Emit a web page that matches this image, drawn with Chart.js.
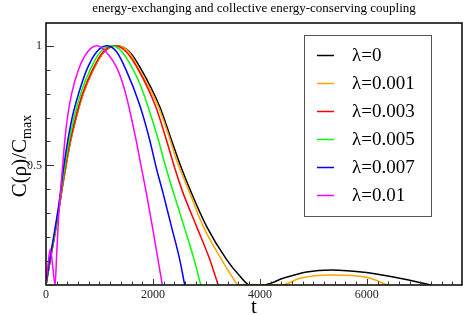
<!DOCTYPE html>
<html>
<head>
<meta charset="utf-8">
<script src="https://cdn.jsdelivr.net/npm/chart.js@4.4.1/dist/chart.umd.min.js"></script>
<style>
  html, body { margin: 0; padding: 0; background: #fff; }
  #wrap { width: 463px; height: 315px; }
</style>
</head>
<body>
<div id="wrap"><canvas id="c" width="463" height="315"></canvas></div>
<script>
// ===== DATA =====
const seriesLabels = ['λ=0', 'λ=0.001', 'λ=0.003', 'λ=0.005', 'λ=0.007', 'λ=0.01'];
const seriesColors = ['#000000', '#ffa500', '#ff0000', '#00ff00', '#0000ff', '#ff00ff'];

const tBlack = [0, 76, 157, 232, 300, 375, 458, 565, 697, 885, 1090, 1320, 1560, 1751, 2126, 2344, 2532, 2719, 3000, 3375, 3625, 3813, 4060, 4436, 4872, 5330, 5994, 6617, 6928, 7210];
const cBlack = [0, 0.1, 0.2, 0.3, 0.4, 0.5, 0.6, 0.7, 0.8, 0.9, 0.975, 1.0, 0.975, 0.913, 0.746, 0.607, 0.489, 0.385, 0.246, 0.107, 0.0375, 0, 0, 0.028, 0.054, 0.063, 0.052, 0.028, 0.014, 0];

const tOrange = [0, 76, 157, 232, 300, 375, 458, 565, 697, 885, 1085, 1310, 1545, 1740, 2100, 2320, 2438, 2688, 2938, 3281, 3480, 3607, 4405, 4750, 5330, 5994, 6390];
const cOrange = [0, 0.1, 0.2, 0.3, 0.4, 0.5, 0.6, 0.7, 0.8, 0.9, 0.975, 1.0, 0.975, 0.9, 0.746, 0.607, 0.524, 0.385, 0.246, 0.107, 0.035, 0, 0, 0.028, 0.042, 0.032, 0];

const tRed = [0, 74, 153, 228, 295, 368, 450, 555, 685, 870, 1070, 1285, 1500, 1751, 2051, 2251, 2407, 2563, 2813, 3063, 3219];
const cRed = [0, 0.1, 0.2, 0.3, 0.4, 0.5, 0.6, 0.7, 0.8, 0.9, 0.975, 1.0, 0.975, 0.89, 0.746, 0.607, 0.489, 0.385, 0.246, 0.107, 0];

const tGreen = [0, 70, 148, 222, 288, 355, 430, 525, 650, 826, 1020, 1220, 1420, 1751, 1907, 2100, 2245, 2385, 2580, 2769, 2894];
const cGreen = [0, 0.1, 0.2, 0.3, 0.4, 0.5, 0.6, 0.7, 0.8, 0.9, 0.975, 1.0, 0.975, 0.843, 0.746, 0.607, 0.489, 0.385, 0.246, 0.107, 0];

const tBlue = [0, 66, 142, 215, 278, 335, 405, 490, 610, 763, 950, 1138, 1320, 1495, 1751, 1938, 2063, 2188, 2344, 2500, 2594];
const cBlue = [0, 0.1, 0.2, 0.3, 0.4, 0.5, 0.6, 0.7, 0.8, 0.9, 0.975, 1.0, 0.975, 0.9, 0.753, 0.607, 0.489, 0.385, 0.246, 0.107, 0];

const tPink = [0, 40, 80, 125, 170, 200, 232, 270, 313, 350, 401, 480, 607, 780, 951, 1120, 1340, 1490, 1595, 1690, 1755, 1876, 1988, 2094, 2175];
const cPink = [0, 0.09, 0.15, 0.08, 0, 0.13, 0.27, 0.39, 0.5, 0.6, 0.7, 0.8, 0.9, 0.975, 1.0, 0.975, 0.9, 0.8, 0.7, 0.6, 0.524, 0.385, 0.246, 0.107, 0];

const xTickLabels = [0, 2000, 4000, 6000];
const yTickLabels = [0.5, 1];

const seriesT = [tBlack, tOrange, tRed, tGreen, tBlue, tPink];
const seriesC = [cBlack, cOrange, cRed, cGreen, cBlue, cPink];

const SERIF = '"Liberation Serif", "DejaVu Serif", serif';

// draws frame, inward ticks, labels, titles and the boxed legend
const decor = {
  id: 'decor',
  afterDraw(chart) {
    const ctx = chart.ctx;
    const a = chart.chartArea;
    const xs = chart.scales.x, ys = chart.scales.y;
    ctx.save();

    // frame
    ctx.strokeStyle = '#000';
    ctx.lineWidth = 1.5;
    ctx.strokeRect(a.left, a.top, a.right - a.left, a.bottom - a.top);

    // x ticks (every 200, major every 2000)
    ctx.strokeStyle = '#333';
    ctx.lineWidth = 1;
    for (let v = 0; v <= xs.max; v += 200) {
      const px = Math.round(xs.getPixelForValue(v)) + 0.5;
      const len = (v % 2000 === 0) ? 6 : 3.5;
      ctx.beginPath(); ctx.moveTo(px, a.bottom); ctx.lineTo(px, a.bottom - len); ctx.stroke();
    }
    // y ticks (every 0.1, major every 0.5)
    for (let i = 0; i <= 10; i++) {
      const v = i / 10;
      const py = Math.round(ys.getPixelForValue(v)) + 0.5;
      const len = (i % 5 === 0) ? 8 : 4.5;
      ctx.beginPath(); ctx.moveTo(a.left, py); ctx.lineTo(a.left + len, py); ctx.stroke();
    }

    // tick labels
    ctx.fillStyle = '#222';
    ctx.font = '12px ' + SERIF;
    ctx.textAlign = 'center';
    ctx.textBaseline = 'top';
    xTickLabels.forEach(v => ctx.fillText(String(v), xs.getPixelForValue(v), a.bottom + 4));
    ctx.textAlign = 'right';
    ctx.textBaseline = 'middle';
    yTickLabels.forEach(v => ctx.fillText(String(v), a.left - 4, ys.getPixelForValue(v)));

    // chart title
    ctx.fillStyle = '#000';
    ctx.font = '13px ' + SERIF;
    ctx.textAlign = 'center';
    ctx.textBaseline = 'alphabetic';
    ctx.fillText('energy-exchanging and collective energy-conserving coupling', (a.left + a.right) / 2, 12);

    // x axis title
    ctx.font = '21px ' + SERIF;
    ctx.fillText('t', (a.left + a.right) / 2, 313);

    // y axis title with subscript
    ctx.save();
    ctx.translate(26, (a.top + a.bottom) / 2 + 2);
    ctx.rotate(-Math.PI / 2);
    ctx.textAlign = 'left';
    const main = 'C(ρ)/C', sub = 'max';
    ctx.font = '21px ' + SERIF;
    const w1 = ctx.measureText(main).width;
    ctx.font = '14px ' + SERIF;
    const w2 = ctx.measureText(sub).width;
    const x0 = -(w1 + w2) / 2;
    ctx.font = '21px ' + SERIF;
    ctx.fillText(main, x0, 0);
    ctx.font = '14px ' + SERIF;
    ctx.fillText(sub, x0 + w1, 5);
    ctx.restore();

    // legend
    ctx.strokeStyle = '#555';
    ctx.lineWidth = 1;
    ctx.strokeRect(304.5, 35.5, 127, 181);
    ctx.font = '19px ' + SERIF;
    ctx.textAlign = 'left';
    ctx.textBaseline = 'middle';
    chart.data.datasets.forEach((ds, i) => {
      const y = 55 + i * 28;
      ctx.strokeStyle = ds.borderColor;
      ctx.lineWidth = 1.5;
      ctx.beginPath(); ctx.moveTo(317, y + 0.5); ctx.lineTo(334, y + 0.5); ctx.stroke();
      ctx.fillStyle = '#000';
      ctx.fillText(ds.label, 352, y + 1);
    });
    ctx.restore();
  }
};

const datasets = seriesLabels.map((lab, i) => ({
  label: lab,
  data: seriesT[i].map((t, k) => ({ x: t, y: seriesC[i][k] })),
  borderColor: seriesColors[i],
  borderWidth: 1.5,
  pointRadius: 0,
  fill: false,
  cubicInterpolationMode: 'monotone',
  order: seriesLabels.length - i
}));

new Chart(document.getElementById('c').getContext('2d'), {
  type: 'line',
  data: { datasets },
  options: {
    responsive: false,
    animation: false,
    layout: { padding: { left: 46, right: 1, top: 23, bottom: 30 } },
    plugins: { legend: { display: false }, title: { display: false }, tooltip: { enabled: false } },
    scales: {
      x: { type: 'linear', min: 0, max: 7780, display: false },
      y: { type: 'linear', min: 0, max: 1.095, display: false }
    }
  },
  plugins: [decor]
});
</script>
</body>
</html>
